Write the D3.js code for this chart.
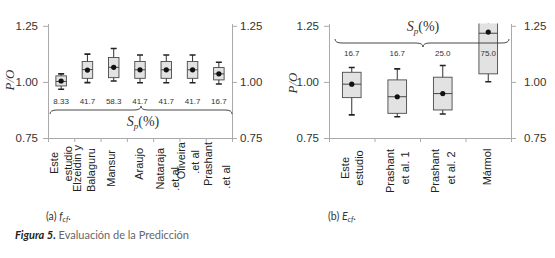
<!DOCTYPE html>
<html lang="es">
<head>
  <meta charset="UTF-8">
  <title>Figura 5</title>
  <script src="https://cdn.jsdelivr.net/npm/d3@7"></script>
  <style>
    body { margin: 0; background: #fff; }
    svg text { font-family: "Liberation Sans", Arial, sans-serif; }
    .cap { font-family: Lato, "Open Sans", sans-serif; }
    .serif { font-family: "Liberation Serif", "Times New Roman", serif; }
  </style>
</head>
<body>
<div id="chart"></div>
<script>
  // ---- data: panel (a) f_cf ----
  const catsA = ["Este estudio", "Elzeidin y Balaguru", "Mansur", "Araujo", "Nataraja et al", "Oliveira et al", "Prashant et al"];
  const linesA = [["Este", "estudio"], ["Elzeidin y", "Balaguru"], ["Mansur"], ["Araujo"], ["Nataraja", ".et al"], ["Oliveira", ".et al"], ["Prashant", ".et al"]];
  const lowA  = [0.967, 0.997, 1.004, 0.996, 0.996, 0.996, 0.991];
  const q1A   = [0.982, 1.016, 1.019, 1.016, 1.016, 1.016, 1.009];
  const medA  = [1.002, 1.055, 1.065, 1.054, 1.054, 1.054, 1.036];
  const q3A   = [1.027, 1.091, 1.109, 1.091, 1.091, 1.091, 1.064];
  const highA = [1.036, 1.124, 1.149, 1.120, 1.120, 1.120, 1.088];
  const meanA = [1.004, 1.053, 1.065, 1.054, 1.054, 1.054, 1.036];
  const spA   = ["8.33", "41.7", "58.3", "41.7", "41.7", "41.7", "16.7"];

  // ---- data: panel (b) E_cf ----
  const catsB = ["Este estudio", "Prashant et al. 1", "Prashant et al. 2", "Mármol"];
  const linesB = [["Este", "estudio"], ["Prashant", "et al. 1"], ["Prashant", "et al. 2"], ["Mármol"]];
  const lowB  = [0.853, 0.845, 0.857, 1.001];
  const q1B   = [0.930, 0.860, 0.875, 1.036];
  const medB  = [0.990, 0.934, 0.948, 1.217];
  const q3B   = [1.043, 1.009, 1.021, 1.300];
  const highB = [1.064, 1.058, 1.073, 1.330];
  const meanB = [0.990, 0.934, 0.948, 1.222];
  const spB   = ["16.7", "16.7", "25.0", "75.0"];

  const yTicks = [0.75, 1.00, 1.25];

  const svg = d3.select("#chart").append("svg")
    .attr("width", 555).attr("height", 258);

  // label line placement (offset from band centre, top of rotated text)
  const layoutA = [[[-7, 152], [7, 146]], [[-10, 145], [4, 148]], [[-3, 150]], [[-1, 148]],
                   [[-6, 148], [9, 167]], [[-12, 142], [2, 150]], [[-11, 142], [7, 165]]];
  const layoutB = [[[-7, 168], [7, 168]], [[-7, 171], [8, 168]], [[-8, 171], [8, 168]], [[-1, 167]]];

  function panel(cfg) {
    const g = svg.append("g");
    const n = cfg.cats.length;
    const y = d3.scaleLinear().domain([0.75, 1.26]).range([138, 23.6]);
    const x = d3.scaleBand().domain(cfg.cats).range([cfg.x0, cfg.x1]);
    const xi = d3.scaleLinear().domain([0, n]).range([cfg.x0, cfg.x1]);
    const bw = x.bandwidth() * cfg.boxFrac;
    const cx = d => x(d) + x.bandwidth() / 2;

    // axes
    const left = g.append("g").attr("transform", `translate(${cfg.x0},0)`)
      .call(d3.axisLeft(y).tickValues(yTicks).tickFormat(d3.format(".2f")).tickSize(5).tickSizeOuter(0).tickPadding(5));
    const right = g.append("g").attr("transform", `translate(${cfg.x1},0)`)
      .call(d3.axisRight(y).tickValues(yTicks).tickFormat(d3.format(".2f")).tickSize(5).tickSizeOuter(0).tickPadding(cfg.rightPad));
    const bottom = g.append("g").attr("transform", "translate(0,138)")
      .call(d3.axisBottom(xi).tickValues(d3.range(n + 1)).tickFormat("").tickSize(4).tickSizeOuter(0));
    [left, right, bottom].forEach(a => {
      a.select(".domain").attr("stroke", "#aaa");
      a.selectAll(".tick line").attr("stroke", "#aaa");
      a.selectAll(".tick text").attr("fill", "#333").style("font-size", "11.5px");
    });

    // y title
    g.append("text").attr("class", "serif")
      .attr("transform", `translate(${cfg.titleX},${cfg.titleY}) rotate(-90)`)
      .attr("text-anchor", "middle")
      .style("font-size", "13px").style("font-style", "italic").attr("fill", "#333")
      .text("P/O");

    // boxes, clipped to the plot
    const clipId = "clip" + cfg.x0;
    g.append("clipPath").attr("id", clipId).append("rect")
      .attr("x", cfg.x0).attr("y", y(1.26)).attr("width", cfg.x1 - cfg.x0).attr("height", y(0.75) - y(1.26));
    const boxes = g.append("g").attr("clip-path", `url(#${clipId})`)
      .selectAll("g").data(cfg.cats).join("g");
    boxes.append("line")
      .attr("x1", cx).attr("x2", cx)
      .attr("y1", (d, i) => y(cfg.low[i])).attr("y2", (d, i) => y(cfg.high[i]))
      .attr("stroke", "#333");
    [cfg.low, cfg.high].forEach(arr => {
      boxes.append("line")
        .attr("x1", d => cx(d) - 3).attr("x2", d => cx(d) + 3)
        .attr("y1", (d, i) => y(arr[i])).attr("y2", (d, i) => y(arr[i]))
        .attr("stroke", "#222").attr("stroke-width", 1.6);
    });
    boxes.append("rect")
      .attr("x", d => cx(d) - bw / 2).attr("width", bw)
      .attr("y", (d, i) => y(cfg.q3[i])).attr("height", (d, i) => y(cfg.q1[i]) - y(cfg.q3[i]))
      .attr("fill", "#e2e2e2").attr("stroke", "#4a4a4a").attr("stroke-width", 0.9);
    boxes.append("line")
      .attr("x1", d => cx(d) - bw / 2).attr("x2", d => cx(d) + bw / 2)
      .attr("y1", (d, i) => y(cfg.med[i])).attr("y2", (d, i) => y(cfg.med[i]))
      .attr("stroke", "#444");
    boxes.append("circle")
      .attr("cx", cx).attr("cy", (d, i) => y(cfg.mean[i])).attr("r", 2.6)
      .attr("fill", "#111");

    // Sp values
    g.selectAll(".sp").data(cfg.sp).join("text")
      .attr("x", (d, i) => cx(cfg.cats[i])).attr("y", cfg.spY)
      .attr("text-anchor", "middle").style("font-size", "8px").attr("fill", "#333")
      .text(d => d);

    // curly brace
    const b = cfg.brace, s = b.dir;
    const bx0 = b.x0, bx1 = b.x1, bc = b.xc, by = b.y;
    g.append("path")
      .attr("d", `M${bx0},${by - 4 * s} Q${bx0},${by} ${bx0 + 7},${by} L${bc - 7},${by} Q${bc},${by} ${bc},${by + 4 * s}` +
                 ` Q${bc},${by} ${bc + 7},${by} L${bx1 - 7},${by} Q${bx1},${by} ${bx1},${by - 4 * s}`)
      .attr("fill", "none").attr("stroke", "#333").attr("stroke-width", 0.9);

    const sp = g.append("text").attr("class", "serif")
      .attr("x", cfg.spLabel[0]).attr("y", cfg.spLabel[1])
      .attr("text-anchor", "middle").attr("fill", "#333").style("font-size", "14px");
    sp.append("tspan").style("font-style", "italic").text("S");
    sp.append("tspan").style("font-style", "italic").style("font-size", "9px").attr("dy", 3).text("p");
    sp.append("tspan").attr("dy", -3).text("(%)");

    // category labels (rotated)
    cfg.lines.forEach((ls, i) => {
      ls.forEach((t, j) => {
        const [dx, top] = cfg.layout[i][j];
        g.append("text")
          .attr("transform", `translate(${cx(cfg.cats[i]) + dx + 4},${top}) rotate(-90)`)
          .attr("text-anchor", cfg.anchor).attr("fill", "#222").style("font-size", "11px")
          .text(t);
      });
    });

    // caption
    const c = g.append("text").attr("class", "cap")
      .attr("x", cfg.capX).attr("y", 220).attr("fill", "#333").style("font-size", "10.5px");
    c.append("tspan").text(cfg.capPre);
    c.append("tspan").style("font-style", "italic").text(cfg.capVar);
    c.append("tspan").style("font-style", "italic").style("font-size", "7.5px").attr("dy", 2).text("cf");
    c.append("tspan").attr("dy", -2).text(".");
  }

  panel({
    cats: catsA, lines: linesA, layout: layoutA, anchor: "end",
    low: lowA, q1: q1A, med: medA, q3: q3A, high: highA, mean: meanA, sp: spA,
    x0: 48, x1: 232, boxFrac: 0.4, rightPad: 3,
    titleX: 14, titleY: 80, spY: 104,
    brace: { x0: 50, x1: 232, xc: 141, y: 110, dir: -1 },
    spLabel: [143, 126],
    capX: 46, capPre: "(a) ", capVar: "f"
  });

  panel({
    cats: catsB, lines: linesB, layout: layoutB, anchor: "middle",
    low: lowB, q1: q1B, med: medB, q3: q3B, high: highB, mean: meanB, sp: spB,
    x0: 329, x1: 511, boxFrac: 0.41, rightPad: 8,
    titleX: 297, titleY: 83, spY: 56,
    brace: { x0: 335, x1: 509, xc: 423, y: 43, dir: 1 },
    spLabel: [423, 31],
    capX: 328, capPre: "(b) ", capVar: "E"
  });

  // figure caption
  const fig = svg.append("text").attr("class", "cap")
    .attr("x", 15).attr("y", 239).style("font-size", "11px");
  fig.append("tspan").style("font-weight", "bold").style("font-style", "italic").attr("fill", "#222").text("Figura 5.");
  fig.append("tspan").attr("fill", "#666").text(" Evaluación de la Predicción");
</script>
</body>
</html>
